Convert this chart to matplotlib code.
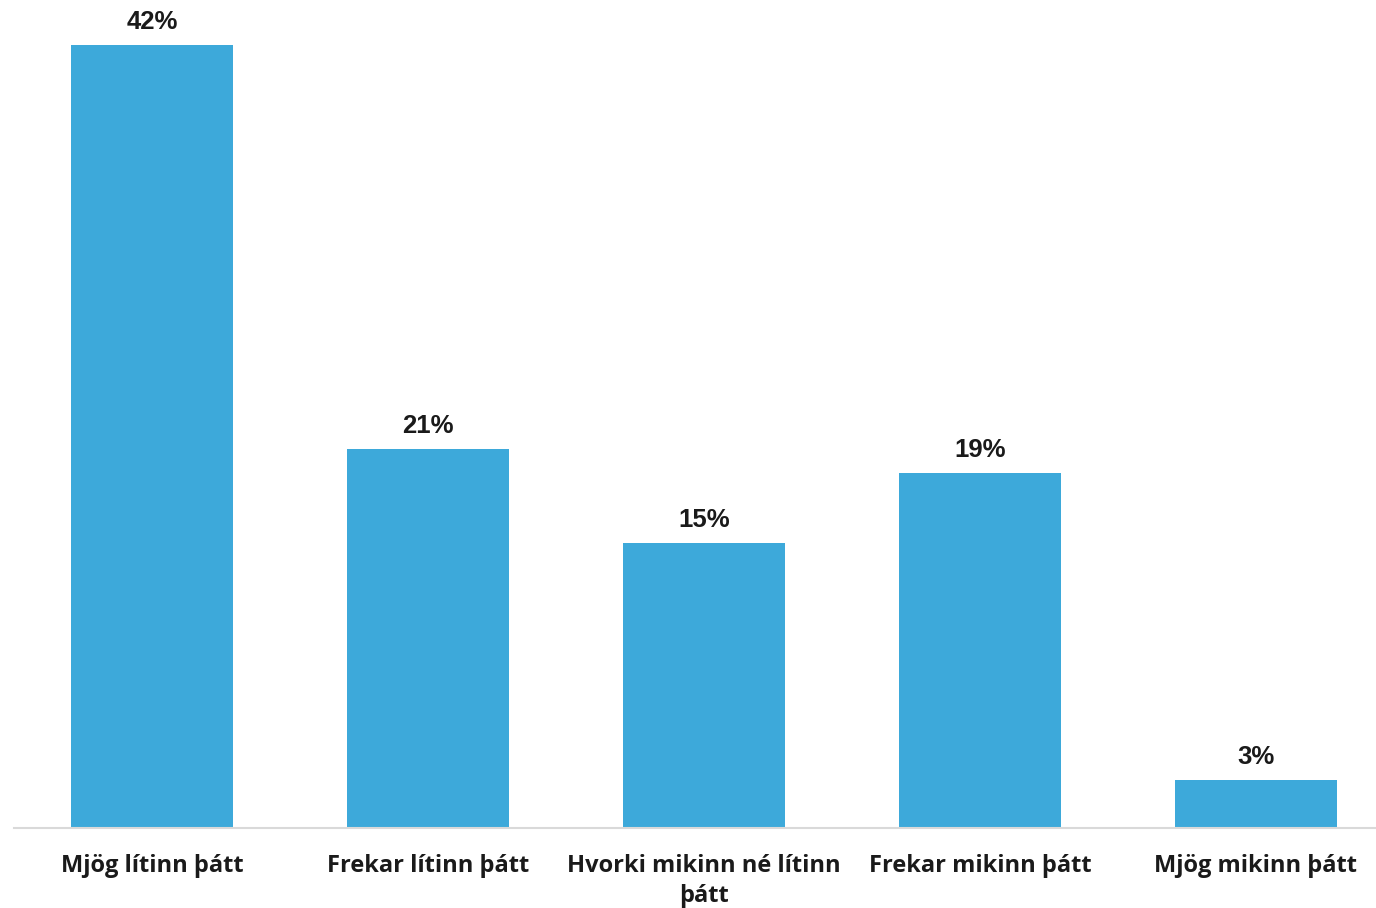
import matplotlib
matplotlib.use("Agg")
import matplotlib.pyplot as plt

categories = ["Mjög lítinn þátt", "Frekar lítinn þátt", "Hvorki mikinn né lítinn\nþátt",
              "Frekar mikinn þátt", "Mjög mikinn þátt"]
values = [42.3, 20.5, 15.4, 19.2, 2.6]
labels = ["42%", "21%", "15%", "19%", "3%"]

W, H = 1376, 908
fig = plt.figure(figsize=(W / 100, H / 100), dpi=100)
# axes from x=14px to right edge, baseline at y=828px
ax = fig.add_axes([14 / W, (H - 828) / H, (W - 14) / W, 828 / H])

x = range(len(categories))
bars = ax.bar(x, values, width=0.59, color="#3DA9DA", zorder=2)

ax.set_xlim(-0.5, -0.5 + (W - 14) / 276)
ax.set_ylim(0, 828 / 18.5)

for b, lab in zip(bars, labels):
    ax.annotate(lab, (b.get_x() + b.get_width() / 2, b.get_height()),
                xytext=(0, 8), textcoords="offset points", ha="center", va="bottom",
                fontsize=18.5, fontweight="bold", family="Liberation Sans", color="#1a1a1a")

ax.set_xticks(list(x))
ax.set_xticklabels(categories, fontsize=17, fontweight="bold", family="Open Sans",
                   color="#1a1a1a", linespacing=1.32)
ax.tick_params(axis="x", length=0, pad=19)
ax.tick_params(axis="y", left=False, labelleft=False)

for s in ["top", "right", "left"]:
    ax.spines[s].set_visible(False)
ax.spines["bottom"].set_color("#D9D9D9")
ax.spines["bottom"].set_linewidth(1.5)

fig.savefig("out.png", dpi=100)
